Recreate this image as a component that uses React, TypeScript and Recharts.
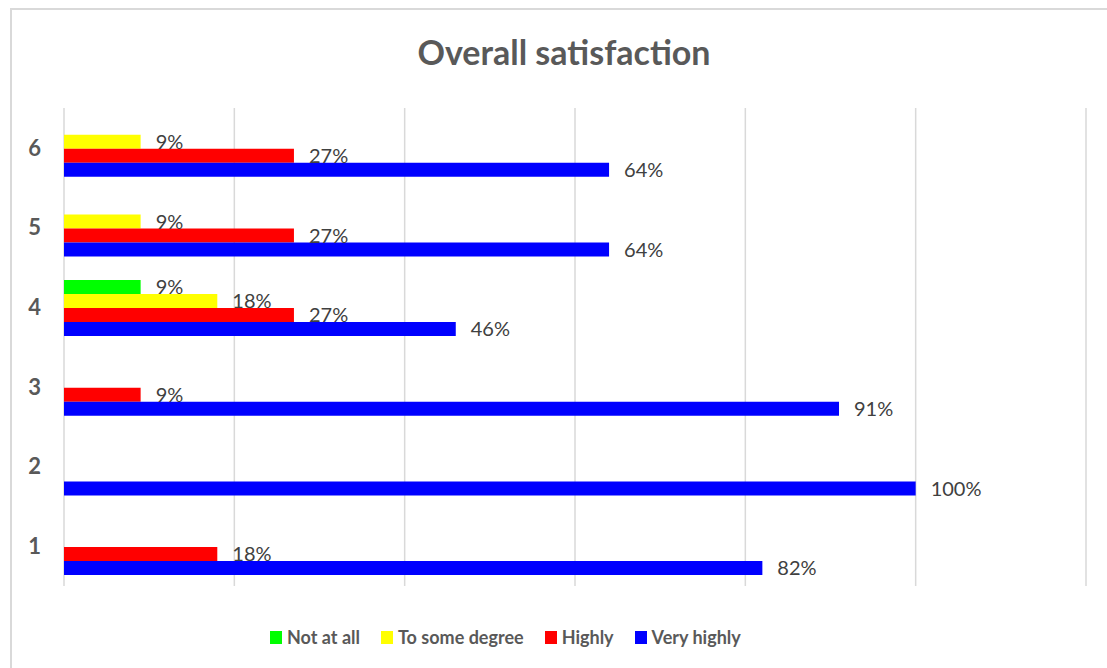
import React from 'react';
import { BarChart, Bar, XAxis, YAxis, CartesianGrid, LabelList } from 'recharts';

const categories = ['1', '2', '3', '4', '5', '6'];
const notAtAll = [0, 0, 0, 9, 0, 0];
const toSomeDegree = [0, 0, 0, 18, 9, 9];
const highly = [18, 0, 9, 27, 27, 27];
const veryHighly = [82, 100, 91, 46, 64, 64];
const xTicks = [0, 20, 40, 60, 80, 100, 120];

const SERIES = [
  { key: 'notAtAll', name: 'Not at all', color: '#00ff00' },
  { key: 'toSomeDegree', name: 'To some degree', color: '#ffff00' },
  { key: 'highly', name: 'Highly', color: '#ff0000' },
  { key: 'veryHighly', name: 'Very highly', color: '#0000ff' },
];

const data = categories.map((name, i) => ({
  name,
  notAtAll: notAtAll[i],
  toSomeDegree: toSomeDegree[i],
  highly: highly[i],
  veryHighly: veryHighly[i],
}));

const FONT = 'Lato, "Open Sans", sans-serif';
const GREY = '#595959';

const LegendBox = () => (
  <div
    style={{
      position: 'absolute',
      left: 270,
      top: 625,
      display: 'flex',
      alignItems: 'center',
      fontFamily: FONT,
      fontWeight: 700,
      fontSize: 18,
      lineHeight: '24px',
      color: GREY,
    }}
  >
    {SERIES.map((s) => (
      <div key={s.key} style={{ display: 'flex', alignItems: 'center', marginRight: 21 }}>
        <span style={{ width: 12, height: 13, background: s.color, marginRight: 5, display: 'inline-block' }} />
        <span>{s.name}</span>
      </div>
    ))}
  </div>
);

const pct = (v: any) => (v ? `${v}%` : '');

const App: React.FC = () => {
  return (
    <div style={{ position: 'fixed', left: 0, top: 0, width: 1107, height: 668, overflow: 'hidden', background: '#fff' }}>
      <div
        style={{
          position: 'absolute',
          left: 10,
          top: 8,
          width: 1120,
          height: 700,
          border: '2px solid #d9d9d9',
          boxSizing: 'border-box',
        }}
      />
      <div
        style={{
          position: 'absolute',
          left: 264,
          top: 31,
          width: 600,
          textAlign: 'center',
          fontFamily: FONT,
          fontWeight: 700,
          fontSize: 34,
          lineHeight: '42px',
          color: GREY,
        }}
      >
        Overall satisfaction
      </div>
      <div style={{ position: 'absolute', left: 0, top: 0 }}>
        <BarChart
          width={1107}
          height={668}
          data={data}
          layout="vertical"
          margin={{ top: 108, right: 21, left: 0, bottom: 82 }}
          barCategoryGap="16%"
          barGap={0}
        >
          <CartesianGrid horizontal={false} stroke="#d9d9d9" strokeWidth={1.5} />
          <XAxis type="number" domain={[0, 120]} ticks={xTicks} hide />
          <YAxis
            type="category"
            dataKey="name"
            reversed
            width={64}
            axisLine={false}
            tickLine={false}
            tickSize={0}
            tickMargin={23}
            tick={{ fill: GREY, fontSize: 22, fontWeight: 700, fontFamily: FONT }}
          />
          {SERIES.map((s) => (
            <Bar key={s.key} dataKey={s.key} name={s.name} fill={s.color} isAnimationActive={false}>
              <LabelList
                dataKey={s.key}
                position="right"
                offset={15}
                formatter={pct}
                fill="#404040"
                fontSize={20}
                fontFamily={FONT}
              />
            </Bar>
          ))}
        </BarChart>
      </div>
      <LegendBox />
    </div>
  );
};

export default App;
